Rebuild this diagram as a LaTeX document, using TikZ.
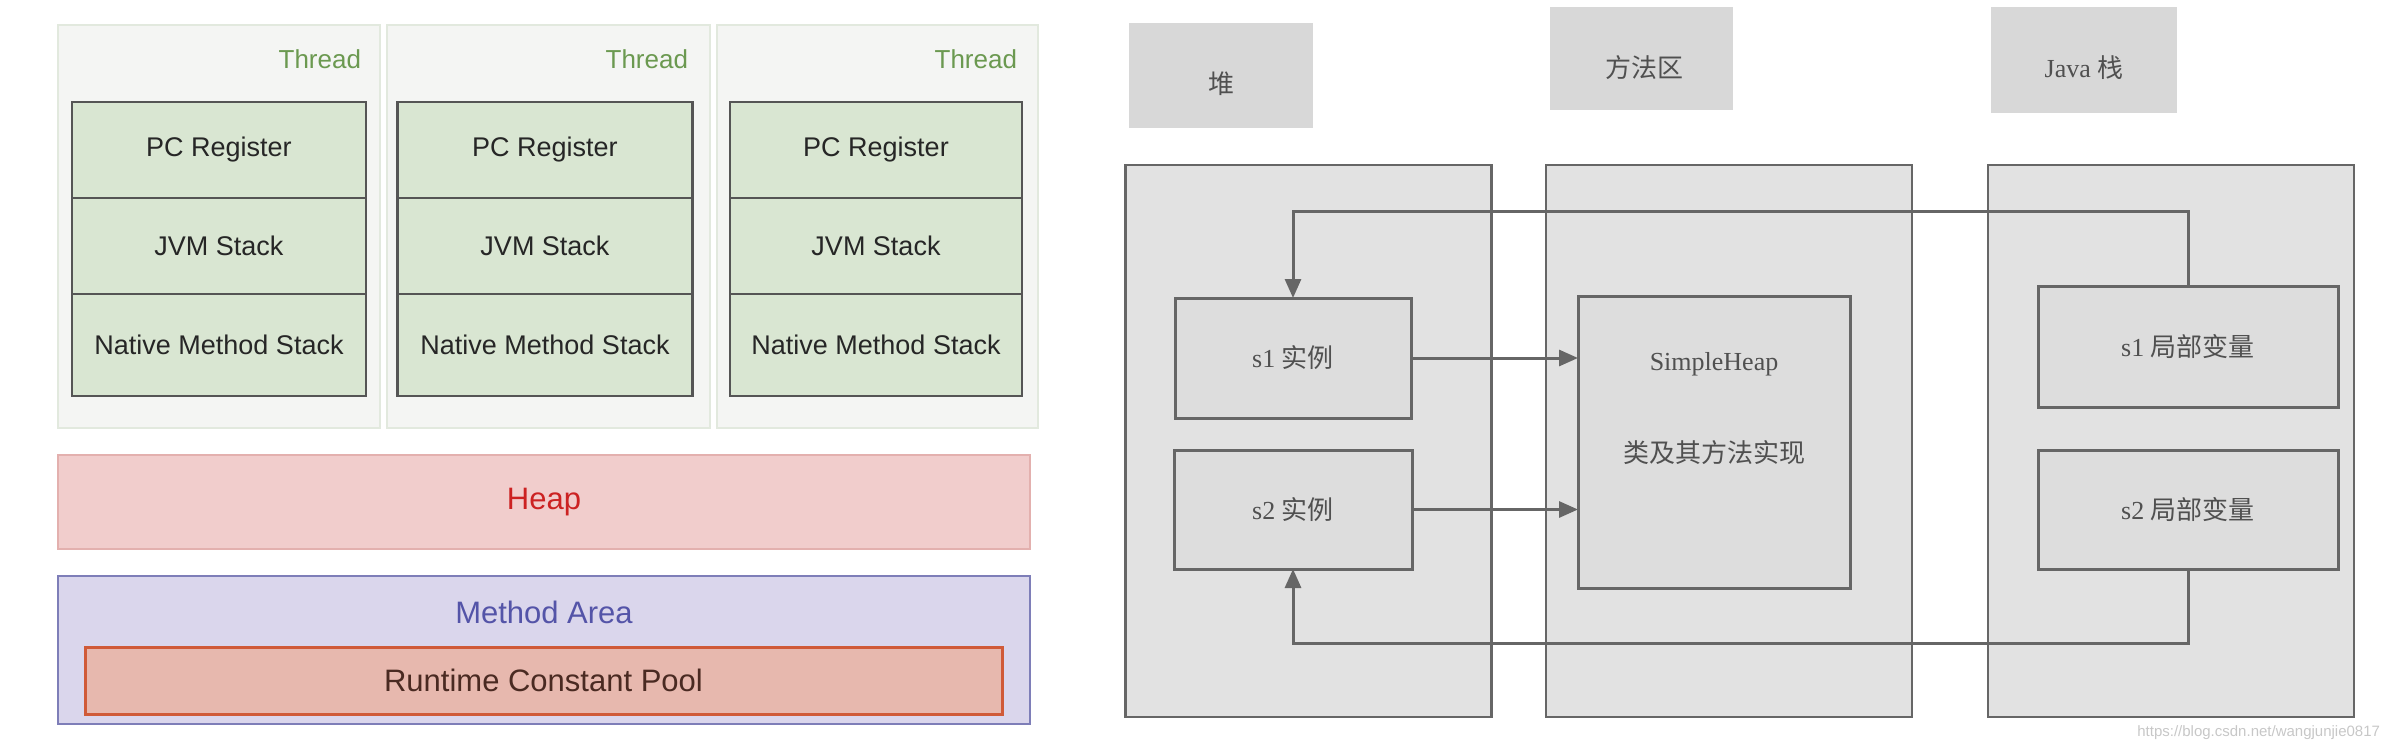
\documentclass[tikz,border=0pt]{standalone}
\usepackage{fontspec}
\setmainfont{Liberation Sans}
\newfontfamily\serifl{Liberation Serif}
\newfontfamily\cjk{Noto Sans CJK SC}
\usetikzlibrary{arrows.meta}
\definecolor{threadfill}{HTML}{F4F5F3}
\definecolor{threadborder}{HTML}{E2E9DE}
\definecolor{cellfill}{HTML}{D9E6D2}
\definecolor{cellborder}{HTML}{555555}
\definecolor{threadtext}{HTML}{6B9950}
\definecolor{heapfill}{HTML}{F1CDCC}
\definecolor{heapborder}{HTML}{E3B0AE}
\definecolor{heaptext}{HTML}{CC2222}
\definecolor{mafill}{HTML}{DAD6EC}
\definecolor{maborder}{HTML}{7E7EB8}
\definecolor{matext}{HTML}{5454A8}
\definecolor{rcpfill}{HTML}{E7B8AE}
\definecolor{rcpborder}{HTML}{D05A38}
\definecolor{rcptext}{HTML}{4A2A22}
\definecolor{colfill}{HTML}{E2E2E2}
\definecolor{colborder}{HTML}{666666}
\definecolor{labfill}{HTML}{D8D8D8}
\definecolor{boxfill}{HTML}{DDDDDD}
\definecolor{graytext}{HTML}{505050}
\begin{document}
\begin{tikzpicture}[x=1pt,y=-1pt,
  every node/.style={inner sep=0pt,outer sep=0pt},
  threadcol/.style={draw=threadborder,fill=threadfill,line width=1.5pt,minimum height=403pt},
  threadlbl/.style={anchor=east,text=threadtext,font=\fontsize{26}{30}\selectfont},
  cell/.style={draw=cellborder,fill=cellfill,line width=2.5pt,font=\fontsize{27}{30}\selectfont,text=black!85},
  heapbox/.style={draw=heapborder,fill=heapfill,line width=2pt,text=heaptext,font=\fontsize{31}{36}\selectfont},
  mabox/.style={draw=maborder,fill=mafill,line width=2.5pt},
  rcpbox/.style={draw=rcpborder,fill=rcpfill,line width=3pt,text=rcptext,font=\fontsize{31}{36}\selectfont},
  rcol/.style={draw=colborder,fill=colfill,line width=2.5pt,minimum width=366pt,minimum height=552pt},
  rlab/.style={fill=labfill},
  rtxt/.style={text=graytext,font=\fontsize{26}{30}\selectfont},
  rbox/.style={draw=colborder,fill=boxfill,line width=3pt,text=graytext,font=\fontsize{26}{30}\selectfont},
  arr/.style={draw=colborder,line width=3pt,-{Triangle[length=19pt,width=16pt]}}
]
\useasboundingbox (0,0) rectangle (2384,752);
% ---------- left panel ----------
\node[threadcol,minimum width=322pt] (t1) at (219,226.5) {};
\node[threadcol,minimum width=323pt] (t2) at (548.5,226.5) {};
\node[threadcol,minimum width=321pt] (t3) at (877.5,226.5) {};
\node[threadlbl] (t1l) at (361,59) {Thread};
\node[threadlbl] (t2l) at (688,59) {Thread};
\node[threadlbl] (t3l) at (1017,59) {Thread};
\foreach \i/\cx/\w in {1/219/294,2/545/295,3/876/292}{
  \node[cell,minimum width=\w pt,minimum height=96pt] (pc\i) at (\cx,150) {PC Register};
  \node[cell,minimum width=\w pt,minimum height=96pt] (jvm\i) at (\cx,246) {JVM Stack};
  \node[cell,minimum width=\w pt,minimum height=102pt] (nms\i) at (\cx,345) {Native Method Stack};
}
\node[heapbox,minimum width=972pt,minimum height=94pt] (heap) at (544,502) {Heap};
\node[mabox,minimum width=972pt,minimum height=148pt] (ma) at (544,650) {};
\node[text=matext,font=\fontsize{31}{36}\selectfont] (mal) at (544,612) {Method Area};
\node[rcpbox,minimum width=917pt,minimum height=67pt] (rcp) at (543.5,680.5) {Runtime Constant Pool};
% ---------- right panel ----------
\node[rlab,minimum width=184pt,minimum height=105pt] (hl) at (1221,75.5) {};
\node[rtxt] (hlt) at (1221,84) {\cjk 堆};
\node[rlab,minimum width=183pt,minimum height=103pt] (ml) at (1641.5,58.5) {};
\node[rtxt] (mlt) at (1644,68) {\cjk 方法区};
\node[rlab,minimum width=186pt,minimum height=106pt] (jl) at (2084,60) {};
\node[rtxt] (jlt) at (2084,68) {\serifl Java \cjk 栈};
\node[rcol] (hc) at (1308.5,441) {};
\node[rcol] (mc) at (1729,441) {};
\node[rcol] (jc) at (2171,441) {};
\node[rbox,minimum width=236pt,minimum height=120pt] (s1i) at (1293,358) {\serifl s1 \cjk 实例};
\node[rbox,minimum width=238pt,minimum height=119pt] (s2i) at (1293,509.5) {\serifl s2 \cjk 实例};
\node[rbox,minimum width=272pt,minimum height=292pt] (sh) at (1714,442) {};
\node[rtxt] (sht) at (1714,364) {\serifl SimpleHeap};
\node[rtxt] (shc) at (1714,453) {\cjk 类及其方法实现};
\node[rbox,minimum width=300pt,minimum height=121pt] (s1l) at (2188,346.5) {\serifl s1 \cjk 局部变量};
\node[rbox,minimum width=300pt,minimum height=119pt] (s2l) at (2188,509.5) {\serifl s2 \cjk 局部变量};
\draw[arr] (s1i.east) -- (s1i.east -| sh.west);
\draw[arr] (s2i.east) -- (s2i.east -| sh.west);
\draw[arr] (s1l.north) -- ++(0,-75) -| (s1i.north);
\draw[arr] (s2l.south) -- ++(0,74) -| (s2i.south);
\node[anchor=east,text=black!22,font=\fontsize{15}{18}\selectfont] (wm) at (2380,733) {https://blog.csdn.net/wangjunjie0817};
\end{tikzpicture}
\end{document}
